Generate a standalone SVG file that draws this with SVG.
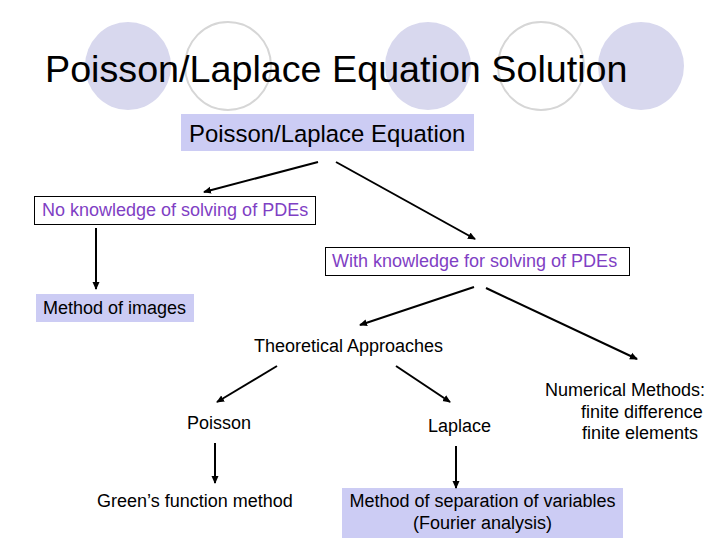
<svg xmlns="http://www.w3.org/2000/svg" width="720" height="540" viewBox="0 0 720 540">
<style>
text{font-family:"Liberation Sans",Arial,sans-serif;fill:#000}
.t{font-size:18px}
.p{fill:#7f40c4}
.fc{fill:#d8d8ee}
.oc{fill:none;stroke:#d6d6d6;stroke-width:2}
.lav{fill:#ccccf4}
.wb{fill:#fff;stroke:#000;stroke-width:1}
.c line{stroke:#000;stroke-width:2;marker-end:url(#ah)}
</style>
<defs>
<marker id="ah" markerWidth="8" markerHeight="8" refX="7" refY="4" orient="auto" markerUnits="userSpaceOnUse">
<path d="M0,0.5 L8,4 L0,7.5 Z" fill="#000"/>
</marker>
</defs>
<rect width="720" height="540" fill="#fff"/>
<g id="decor">
<ellipse class="fc" cx="128" cy="66" rx="43" ry="44"/>
<ellipse class="oc" cx="228" cy="66" rx="43" ry="44"/>
<ellipse class="fc" cx="428" cy="66" rx="43" ry="44"/>
<ellipse class="oc" cx="541" cy="66" rx="43" ry="44"/>
<ellipse class="fc" cx="641" cy="66" rx="43" ry="44"/>
</g>
<g id="title"><text x="45" y="82" style="font-size:37.7px">Poisson/Laplace Equation Solution</text></g>
<g id="n-eq"><rect class="lav" x="181" y="114" width="293" height="37"/><text x="189" y="142" style="font-size:23.9px">Poisson/Laplace Equation</text></g>
<g id="n-no"><rect class="wb" x="34.5" y="196.5" width="281" height="28"/><text class="t p" x="42" y="216">No knowledge of solving of PDEs</text></g>
<g id="n-with"><rect class="wb" x="325.5" y="247.5" width="304" height="28"/><text class="t p" x="332" y="267">With knowledge for solving of PDEs</text></g>
<g id="n-img"><rect class="lav" x="36" y="294" width="158" height="28"/><text class="t" x="43" y="314">Method of images</text></g>
<g id="n-theo"><text class="t" x="254" y="352">Theoretical Approaches</text></g>
<g id="n-num"><text class="t" x="545" y="396">Numerical Methods:</text><text class="t" x="581" y="418">finite difference</text><text class="t" x="582" y="439">finite elements</text></g>
<g id="n-poisson"><text class="t" x="187" y="429">Poisson</text></g>
<g id="n-laplace"><text class="t" x="428" y="432">Laplace</text></g>
<g id="n-green"><text class="t" x="97" y="507">Green’s function method</text></g>
<g id="n-sep"><rect class="lav" x="342" y="488" width="281" height="50"/><text class="t" x="482.5" y="507" text-anchor="middle">Method of separation of variables</text><text class="t" x="482.5" y="529" text-anchor="middle">(Fourier analysis)</text></g>
<g id="connectors" class="c">
<line x1="318" y1="162" x2="204" y2="192"/>
<line x1="336" y1="162" x2="475" y2="239"/>
<line x1="96" y1="228" x2="96" y2="289"/>
<line x1="474" y1="287" x2="360" y2="325"/>
<line x1="486" y1="288" x2="637" y2="359"/>
<line x1="277" y1="366" x2="217" y2="402"/>
<line x1="396" y1="366" x2="450" y2="402"/>
<line x1="215" y1="443" x2="215" y2="483"/>
<line x1="456" y1="446" x2="456" y2="488"/>
</g>
</svg>
